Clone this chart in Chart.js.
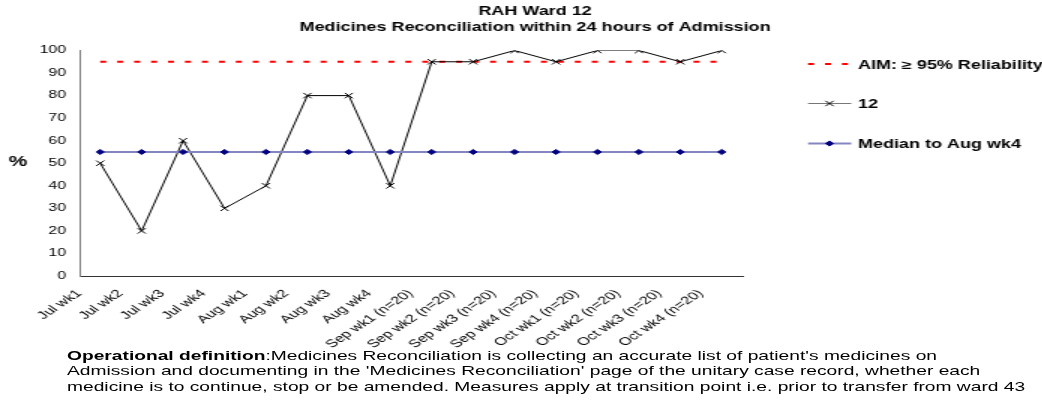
<!DOCTYPE html>
<html>
<head>
<meta charset="utf-8">
<title>RAH Ward 12</title>
<script src="https://cdn.jsdelivr.net/npm/chart.js"></script>
<style>
    html, body { margin: 0; padding: 0; background: #fff; overflow: hidden; }
    /* the original picture is stretched sideways, so the whole page is too */
    #wrap { position: absolute; left: 0; top: 0; width: 695px; height: 402px; transform: scaleX(1.5); transform-origin: 0 0; }
    #myChart { position: absolute; left: 0; top: 0; }
    #definition { position: absolute; left: 44.7px; top: 347.5px; font: 12.8px/15.5px "Liberation Sans", Arial, sans-serif; color: #000; white-space: nowrap; }
</style>
</head>
<body>
<div id="wrap">
    <canvas id="myChart" width="695" height="402"></canvas>
    <div id="definition"><b>Operational definition</b>:Medicines Reconciliation is collecting an accurate list of patient's medicines on<br>Admission and documenting in the 'Medicines Reconciliation' page of the unitary case record, whether each<br>medicine is to continue, stop or be amended. Measures apply at transition point i.e. prior to transfer from ward 43</div>
</div>
<script>
// chart data
const titleLines = ['RAH Ward 12', 'Medicines Reconciliation within 24 hours of Admission'];
const yTitle = '%';
const weeks = ['Jul wk1', 'Jul wk2', 'Jul wk3', 'Jul wk4', 'Aug wk1', 'Aug wk2', 'Aug wk3', 'Aug wk4',
    'Sep wk1 (n=20)', 'Sep wk2 (n=20)', 'Sep wk3 (n=20)', 'Sep wk4 (n=20)',
    'Oct wk1 (n=20)', 'Oct wk2 (n=20)', 'Oct wk3 (n=20)', 'Oct wk4 (n=20)'];
const aimLabel = 'AIM: \u2265 95% Reliability';
const aimValues = [95, 95, 95, 95, 95, 95, 95, 95, 95, 95, 95, 95, 95, 95, 95, 95];
const wardLabel = '12';
const wardValues = [50, 20, 60, 30, 40, 80, 80, 40, 95, 95, 100, 95, 100, 100, 95, 100];
const medianLabel = 'Median to Aug wk4';
const medianValues = [55, 55, 55, 55, 55, 55, 55, 55, 55, 55, 55, 55, 55, 55, 55, 55];
const yTicks = { min: 0, max: 100, step: 10 };

const FONT = '"Liberation Sans", Arial, sans-serif';

// title, the "%" label and the legend on the right
const extras = {
    id: 'extras',
    afterDraw(chart) {
        const ctx = chart.ctx;
        ctx.save();
        ctx.fillStyle = '#000';
        ctx.textAlign = 'center';
        ctx.textBaseline = 'alphabetic';
        ctx.font = 'bold 12px ' + FONT;
        ctx.fillText(titleLines[0], 356.7, 15);
        ctx.fillText(titleLines[1], 356.7, 30.5);

        ctx.font = 'bold 14px ' + FONT;
        ctx.textBaseline = 'middle';
        ctx.fillText(yTitle, 12, 162);

        const rows = [64, 103.5, 143.5];
        const x0 = 538.7, x1 = 567.5, xm = 553;
        chart.data.datasets.forEach(function (ds, i) {
            const y = rows[i];
            ctx.save();
            ctx.strokeStyle = ds.legendLine || ds.borderColor;
            ctx.lineWidth = ds.borderWidth;
            ctx.setLineDash(ds.borderDash || []);
            ctx.beginPath();
            ctx.moveTo(x0, y);
            ctx.lineTo(x1, y);
            ctx.stroke();
            ctx.restore();
            if (ds.pointRadius > 0) {
                ctx.save();
                ctx.strokeStyle = ds.pointBorderColor;
                ctx.fillStyle = ds.pointBackgroundColor;
                Chart.helpers.drawPoint(ctx, {
                    pointStyle: ds.pointStyle,
                    radius: ds.pointRadius,
                    borderWidth: ds.pointBorderWidth,
                    rotation: 0
                }, xm, y);
                ctx.restore();
            }
            ctx.fillStyle = '#000';
            ctx.textAlign = 'left';
            ctx.textBaseline = 'alphabetic';
            ctx.font = 'bold 12px ' + FONT;
            ctx.fillText(ds.label, 572, y + 4.6);
        });
        ctx.restore();
    }
};

document.addEventListener('DOMContentLoaded', function () {
    const ctx = document.getElementById('myChart').getContext('2d');
    new Chart(ctx, {
        type: 'line',
        data: {
            labels: weeks,
            datasets: [
                {
                    label: aimLabel,
                    data: aimValues,
                    borderColor: '#ff0000',
                    borderWidth: 2,
                    borderDash: [4, 7.3],
                    pointRadius: 0,
                    fill: false,
                    order: 3
                },
                {
                    label: wardLabel,
                    data: wardValues,
                    borderColor: '#000000',
                    legendLine: '#777777',
                    borderWidth: 1,
                    pointStyle: 'crossRot',
                    pointRadius: 3.8,
                    pointBorderWidth: 1,
                    pointBorderColor: '#000000',
                    pointBackgroundColor: '#000000',
                    fill: false,
                    order: 2
                },
                {
                    label: medianLabel,
                    data: medianValues,
                    borderColor: '#8585c2',
                    borderWidth: 2,
                    pointStyle: 'rectRot',
                    pointRadius: 2.6,
                    pointBorderWidth: 1,
                    pointBorderColor: '#000080',
                    pointBackgroundColor: '#000080',
                    fill: false,
                    order: 1
                }
            ]
        },
        options: {
            responsive: false,
            animation: false,
            events: [],
            layout: { padding: { top: 50.5, right: 200, left: 0, bottom: 0 } },
            plugins: {
                legend: { display: false },
                title: { display: false },
                tooltip: { enabled: false }
            },
            scales: {
                x: {
                    offset: true,
                    grid: { display: false, drawTicks: false },
                    border: { display: true, color: '#333333', width: 1 },
                    ticks: {
                        autoSkip: false,
                        minRotation: 45,
                        maxRotation: 45,
                        padding: 11,
                        labelOffset: -14,
                        color: '#000',
                        font: { family: FONT, size: 11 }
                    },
                    afterFit: function (scale) { scale.height = 126; }
                },
                y: {
                    min: yTicks.min,
                    max: yTicks.max,
                    grid: { display: false, drawTicks: false },
                    border: { display: true, color: '#808080', width: 1 },
                    ticks: {
                        stepSize: yTicks.step,
                        padding: 9,
                        color: '#000',
                        font: { family: FONT, size: 10.5 }
                    },
                    afterFit: function (scale) { scale.width = 53; }
                }
            }
        },
        plugins: [extras]
    });
});
</script>
</body>
</html>
